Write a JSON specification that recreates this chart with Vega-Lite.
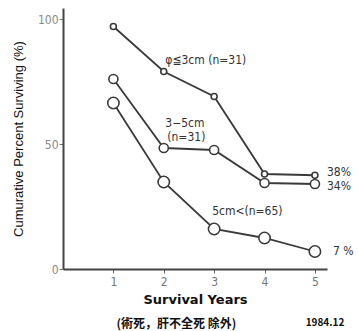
{
  "$schema": "https://vega.github.io/schema/vega-lite/v6.json",
  "autosize": {"type": "none"},
  "width": 264,
  "height": 261,
  "padding": {"left": 63, "top": 8, "right": 31, "bottom": 62},
  "background": "white",
  "config": {"view": {"stroke": null}},
  "datasets": {
    "surv": [
      {"group": "≦3cm", "year": 1, "pct": 97},
      {"group": "≦3cm", "year": 2, "pct": 79},
      {"group": "≦3cm", "year": 3, "pct": 69},
      {"group": "≦3cm", "year": 4, "pct": 38},
      {"group": "≦3cm", "year": 5, "pct": 37.5},
      {"group": "3-5cm", "year": 1, "pct": 76},
      {"group": "3-5cm", "year": 2, "pct": 48.4},
      {"group": "3-5cm", "year": 3, "pct": 47.6},
      {"group": "3-5cm", "year": 4, "pct": 34.4},
      {"group": "3-5cm", "year": 5, "pct": 34},
      {"group": "5cm<", "year": 1, "pct": 66.4},
      {"group": "5cm<", "year": 2, "pct": 34.8},
      {"group": "5cm<", "year": 3, "pct": 16},
      {"group": "5cm<", "year": 4, "pct": 12.4},
      {"group": "5cm<", "year": 5, "pct": 7}
    ],
    "notes": [
      {"label": "φ≦3cm (n=31)", "x": 2.03, "y": 83.6},
      {"label": "3−5cm", "x": 2.03, "y": 58.4},
      {"label": "(n=31)", "x": 2.07, "y": 52.8},
      {"label": "5cm<(n=65)", "x": 2.96, "y": 23.2},
      {"label": "38%", "x": 5.24, "y": 38.8},
      {"label": "34%", "x": 5.24, "y": 33.2},
      {"label": "7 %", "x": 5.36, "y": 7.2}
    ],
    "footer": [
      {"label": "(術死，肝不全死 除外)", "x": 2.25, "y": -22, "fs": 12},
      {"label": "1984.12", "x": 5.2, "y": -21.4, "fs": 10}
    ]
  },
  "layer": [
    {
      "data": {"name": "surv"},
      "mark": {"type": "line", "color": "#3a3a3a", "strokeWidth": 1.8},
      "encoding": {
        "x": {
          "field": "year", "type": "quantitative",
          "scale": {"domain": [0, 5.24], "nice": false},
          "axis": {
            "values": [1, 2, 3, 4, 5], "grid": false,
            "title": "Survival Years",
            "titleFont": "DejaVu Sans", "titleFontSize": 13, "titleFontWeight": "bold",
            "titleColor": "#111", "titlePadding": 6,
            "labelFont": "DejaVu Sans Condensed, DejaVu Sans", "labelFontSize": 12, "labelColor": "#777",
            "labelPadding": 3, "tickSize": 4, "tickColor": "#666", "tickWidth": 1,
            "domainColor": "#444", "domainWidth": 2
          }
        },
        "y": {
          "field": "pct", "type": "quantitative",
          "scale": {"domain": [0, 104.4], "nice": false},
          "axis": {
            "values": [0, 50, 100], "grid": false,
            "title": "Cumurative Percent Surviving (%)",
            "titleFont": "Liberation Sans", "titleFontSize": 13, "titleFontWeight": "normal",
            "titleColor": "#111", "titlePadding": 12,
            "labelFont": "DejaVu Sans Condensed, DejaVu Sans", "labelFontSize": 12, "labelColor": "#888",
            "labelPadding": 1, "tickSize": 4, "tickColor": "#777", "tickWidth": 1,
            "domainColor": "#444", "domainWidth": 2
          }
        },
        "detail": {"field": "group"}
      }
    },
    {
      "data": {"name": "surv"},
      "mark": {"type": "point", "filled": true, "fill": "white", "stroke": "#3a3a3a", "strokeWidth": 1.6, "opacity": 1},
      "encoding": {
        "x": {"field": "year", "type": "quantitative"},
        "y": {"field": "pct", "type": "quantitative"},
        "size": {
          "field": "group", "type": "nominal",
          "scale": {"domain": ["≦3cm", "3-5cm", "5cm<"], "range": [36, 130, 250]},
          "legend": null
        }
      }
    },
    {
      "data": {"name": "notes"},
      "mark": {"type": "text", "align": "left", "baseline": "middle", "font": "DejaVu Sans Condensed, DejaVu Sans", "fontSize": 12, "color": "#333"},
      "encoding": {
        "x": {"field": "x", "type": "quantitative"},
        "y": {"field": "y", "type": "quantitative"},
        "text": {"field": "label"}
      }
    },
    {
      "data": {"name": "footer"},
      "mark": {"type": "text", "align": "center", "baseline": "middle", "font": "Noto Sans CJK JP", "fontWeight": "bold", "color": "#111"},
      "encoding": {
        "x": {"field": "x", "type": "quantitative"},
        "y": {"field": "y", "type": "quantitative"},
        "text": {"field": "label"},
        "size": {"field": "fs", "type": "quantitative", "scale": null}
      }
    }
  ]
}
